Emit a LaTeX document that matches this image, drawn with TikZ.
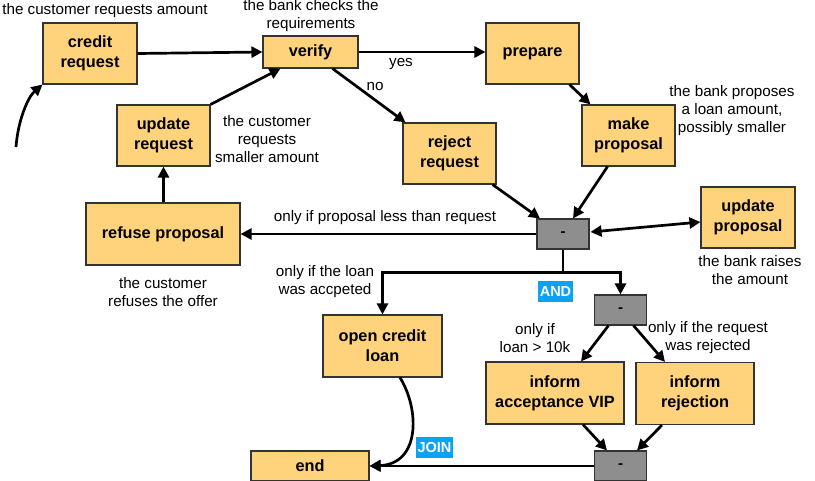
\documentclass[tikz,border=0pt]{standalone}
\usepackage{fontspec}
\setmainfont{Liberation Sans}
\usetikzlibrary{arrows.meta,calc}
\definecolor{taskfill}{HTML}{FFD27C}
\definecolor{gatefill}{HTML}{8E8E8E}
\definecolor{edgegray}{HTML}{333333}
\definecolor{tagblue}{HTML}{0AA2F5}
\begin{document}
\begin{tikzpicture}[x=1pt,y=-1pt,
  task/.style={draw=edgegray,line width=1.1pt,fill=taskfill,inner sep=0pt,align=center,
    font=\fontsize{16.3}{20}\selectfont\bfseries},
  gate/.style={draw=edgegray,line width=1.1pt,fill=gatefill,inner sep=0pt,
    minimum width=52pt,minimum height=30pt,font=\fontsize{15}{18}\selectfont\bfseries},
  note/.style={align=center,inner sep=0pt,font=\fontsize{15.2}{18}\selectfont},
  tag/.style={fill=tagblue,text=white,inner sep=0pt,font=\fontsize{14.5}{17}\selectfont\bfseries},
  flow/.style={line width=2.7pt,-{Triangle[length=11pt,width=11pt]}},
  both/.style={line width=2.7pt,{Triangle[length=11pt,width=11pt]}-{Triangle[length=11pt,width=11pt]}},
  plain/.style={line width=2.7pt}]
\useasboundingbox (0,0) rectangle (815,480);

% tasks
\node[task,minimum width=94pt,minimum height=61pt] (credit) at (90,53.5) {credit\\request};
\node[task,minimum width=95pt,minimum height=32pt] (verify) at (310.5,52) {verify};
\node[task,minimum width=93pt,minimum height=61pt] (prepare) at (532.5,53.5) {prepare};
\node[task,minimum width=93pt,minimum height=61pt] (makeprop) at (628.5,135.5) {make\\proposal};
\node[task,minimum width=93pt,minimum height=61pt] (reject) at (449.5,153.5) {reject\\request};
\node[task,minimum width=93pt,minimum height=61pt] (updreq) at (163.5,135.5) {update\\request};
\node[task,minimum width=154pt,minimum height=62pt] (refuse) at (163,234) {refuse proposal};
\node[task,minimum width=94pt,minimum height=61pt] (updprop) at (748,217.5) {update\\proposal};
\node[task,minimum width=119pt,minimum height=62pt] (open) at (382.5,346) {open credit\\loan};
\node[task,minimum width=138pt,minimum height=62pt] (infacc) at (555,393) {inform\\acceptance VIP};
\node[task,minimum width=118pt,minimum height=62pt] (infrej) at (695,393.5) {inform\\rejection};
\node[task,minimum width=118pt,minimum height=30pt] (end) at (310,466) {end};

% gateways
\node[gate] (g1) at (563,234) {-};
\node[gate] (g2) at (620.5,310) {-};
\node[gate] (g3) at (620.5,466) {-};

% annotations
\node[note] (n1) at (105,11) {the customer requests amount};
\node[note] (n2) at (311,15.5) {the bank checks the\\requirements};
\node[note] (n3) at (401,64) {yes};
\node[note] (n4) at (375,86) {no};
\node[note] (n5) at (732,111) {the bank proposes\\a loan amount,\\possibly smaller};
\node[note] (n6) at (267,139) {the customer\\requests\\smaller amount};
\node[note] (n7) at (385,218) {only if proposal less than request};
\node[note] (n8) at (163,292) {the customer\\refuses the offer};
\node[note] (n9) at (325,282) {only if the loan\\was accpeted};
\node[note] (n10) at (750,270) {the bank raises\\the amount};
\node[note] (n11) at (535,338) {only if\\loan > 10k};
\node[note] (n12) at (708,338) {only if the request\\was rejected};
\node[tag,minimum width=35pt,minimum height=21pt] (andtag) at (555.5,291.5) {AND};
\node[tag,minimum width=37pt,minimum height=21pt] (jointag) at (434.5,447.5) {JOIN};

% connectors
\coordinate (s0) at (16,147);
\draw[flow] (s0) .. controls (18,120) and (28,97) .. (credit.south west);
\draw[flow] (credit.east) -- (verify.west);
\draw[flow] (updreq.north east) -- ($(verify.south)+(-30,0)$);
\draw[flow] (verify.east) -- (prepare.west |- verify.east);
\draw[flow] ($(verify.south)+(22,0)$) -- ($(reject.north)+(-44,0)$);
\draw[flow] ($(prepare.south)+(37,0)$) -- ($(makeprop.north)+(-38,0)$);
\draw[flow] ($(reject.south east)+(-4,0)$) -- ($(g1.north)+(-23,0)$);
\draw[flow] ($(makeprop.south)+(-21,0)$) -- ($(g1.north)+(10,0)$);
\draw[flow] (g1.west) -- (refuse.east);
\draw[both] ($(g1.east)+(1,-2)$) -- ($(updprop.west)+(0,4.5)$);
\draw[flow] (refuse.north -| updreq.south) -- (updreq.south);
\draw[plain] (g1.south) -- ++(0,23) coordinate (split);
\draw[flow] (split) -| (open.north);
\draw[flow] (split) -| (g2.north);
\draw[flow] ($(g2.south)+(-12,0)$) -- ($(infacc.north)+(26,0)$);
\draw[flow] ($(g2.south)+(13,0)$) -- ($(infrej.north)+(-30,0)$);
\draw[flow] ($(infacc.south)+(28,0)$) -- ($(g3.north)+(-13.5,0)$);
\draw[flow] ($(infrej.south)+(-33,0)$) -- ($(g3.north)+(16.5,0)$);
\draw[flow] (g3.west) -- (end.east);
\draw[flow] ($(open.south)+(17.5,0)$) .. controls (420,410) and (420,464) .. (end.east);
\end{tikzpicture}
\end{document}
